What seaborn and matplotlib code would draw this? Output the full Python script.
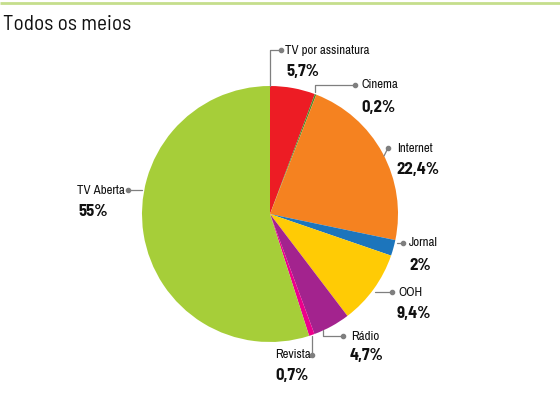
import matplotlib
matplotlib.use("Agg")
import matplotlib.pyplot as plt
import seaborn as sns

categories = ["TV por assinatura", "Cinema", "Internet", "Jornal", "OOH", "Rádio", "Revista", "TV Aberta"]
values = [5.7, 0.2, 22.4, 2.0, 9.4, 4.7, 0.7, 55.0]
value_labels = ["5,7%", "0,2%", "22,4%", "2%", "9,4%", "4,7%", "0,7%", "55%"]
colors = ["#ED1C24", "#4C8C2B", "#F58220", "#1C75BC", "#FFCB05", "#A3238E", "#EC008C", "#A6CE39"]
title = "Todos os meios"

sns.set_theme(style="white")
plt.rcParams['font.family'] = ["Archivo Narrow", "Roboto", "DejaVu Sans"]
title_family = ["Barlow Semi Condensed", "Roboto", "DejaVu Sans"]
value_family = ["Barlow Semi Condensed", "Roboto", "DejaVu Sans"]

W, H = 560, 399
fig = plt.figure(figsize=(W / 100, H / 100), dpi=100)
ax = fig.add_axes([0, 0, 1, 1])

def Y(y):
    return H - y

cx, cy, R = 270, 214, 128
ax.pie(values, colors=colors, startangle=90, counterclock=False,
       center=(cx, Y(cy)), radius=R, wedgeprops=dict(linewidth=0))
ax.set_xlim(0, W)
ax.set_ylim(0, H)
ax.set_aspect("equal")
ax.axis("off")

ax.plot([0, W], [Y(3), Y(3)], color="#C5DE8C", lw=2, solid_capstyle="butt")
ax.text(3, Y(25), title, fontsize=15.3, color="#111111", va="center", ha="left",
        family=title_family)

lc = "#7f7f7f"
leaders = [
    [(270, 86), (270, 50), (281, 50)],
    [(315, 92), (315, 85), (355, 85)],
    [(384, 156), (388, 148)],
    [(397, 243), (403, 243)],
    [(375, 292), (392, 292)],
    [(323, 330), (323, 336), (343, 336)],
    [(312, 336), (312, 355)],
    [(142, 190), (128, 190)],
]
label_pos = [
    (285, 50),
    (362, 85),
    (397, 148),
    (409, 243),
    (398, 292),
    (351, 336),
    (275, 355),
    (77, 190),
]
value_pos = [
    (286, 72),
    (361, 107),
    (396, 170),
    (409, 265),
    (397, 314),
    (350, 356),
    (275, 376),
    (78, 211),
]

for i, cat in enumerate(categories):
    pts = leaders[i]
    xs = [p[0] for p in pts]
    ys = [Y(p[1]) for p in pts]
    ax.plot(xs, ys, color=lc, lw=0.9)
    ax.plot(xs[-1], ys[-1], "o", color=lc, ms=3)
    lx, ly = label_pos[i]
    ax.text(lx, Y(ly), cat, fontsize=9.3, color="#111111", ha="left", va="center")
    vx, vy = value_pos[i]
    ax.text(vx, Y(vy), value_labels[i], fontsize=12, fontweight="bold",
            color="#111111", ha="left", va="center", family=value_family)

fig.savefig("out.png", dpi=100)
